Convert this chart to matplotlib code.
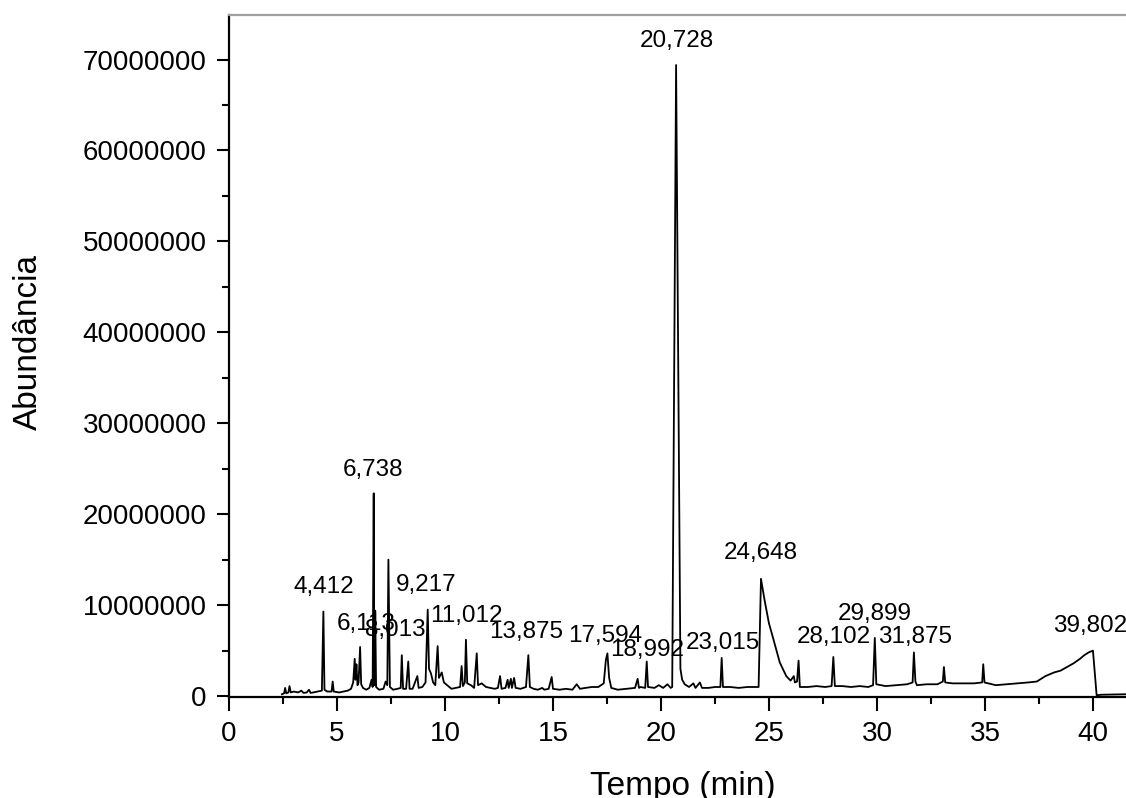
#chromatogram.py: abundance vs retention time (GC-MS)

import matplotlib
matplotlib.use("Agg")
import matplotlib.pyplot as plt
from matplotlib.ticker import MultipleLocator

plt.rcParams['font.family'] = ['Liberation Sans', 'DejaVu Sans']

#trace: retention time (min) and abundance (millions)
tempo = [
    2.45, 2.55, 2.60, 2.65, 2.75, 2.80, 2.86, 3.00, 3.20, 3.35, 3.45, 3.60, 3.70, 3.78, 3.90,
    4.10, 4.30, 4.37, 4.42, 4.55, 4.75, 4.80, 4.85, 5.10, 5.30, 5.50, 5.65, 5.75, 5.82, 5.86,
    5.90, 5.95, 6.00, 6.07, 6.12, 6.20, 6.35, 6.50, 6.60, 6.65, 6.70, 6.73, 6.77, 6.81, 6.95,
    7.15, 7.25, 7.33, 7.38, 7.45, 7.60, 7.80, 7.95, 8.00, 8.06, 8.20, 8.30, 8.36, 8.50, 8.72,
    8.78, 8.95, 9.10, 9.20, 9.26, 9.35, 9.45, 9.55, 9.66, 9.72, 9.85, 9.95, 10.1, 10.3, 10.5,
    10.7, 10.77, 10.83, 10.92, 10.97, 11.03, 11.2, 11.35, 11.47, 11.53, 11.7, 11.9, 12.1, 12.3,
    12.45, 12.55, 12.62, 12.8, 12.9, 12.95, 13.05, 13.1, 13.2, 13.27, 13.5, 13.75, 13.86, 13.93,
    14.1, 14.3, 14.5, 14.6, 14.8, 14.94, 15.0, 15.3, 15.6, 15.9, 16.1, 16.25, 16.5, 16.8, 17.1,
    17.35, 17.45, 17.52, 17.6, 17.7, 18.0, 18.4, 18.8, 18.92, 18.98, 19.05, 19.27, 19.34, 19.4,
    19.7, 19.9, 20.1, 20.3, 20.45, 20.52, 20.70, 20.90, 20.98, 21.1, 21.3, 21.5, 21.6, 21.8,
    21.9, 22.2, 22.5, 22.75, 22.81, 22.87, 23.2, 23.6, 24.0, 24.4, 24.52, 24.63, 24.8, 25.0,
    25.2, 25.5, 25.8, 26.0, 26.15, 26.2, 26.3, 26.37, 26.43, 26.8, 27.2, 27.6, 27.9, 27.98,
    28.05, 28.4, 28.8, 29.2, 29.6, 29.82, 29.9, 29.97, 30.4, 30.9, 31.4, 31.65, 31.71, 31.78,
    31.85, 32.3, 32.8, 33.05, 33.1, 33.16, 33.5, 34.0, 34.5, 34.87, 34.92, 34.98, 35.5, 36.0,
    36.5, 37.0, 37.4, 37.8, 38.2, 38.5, 38.8, 39.1, 39.4, 39.6, 39.8, 39.9, 40.0, 40.17, 40.4,
    41.5,
]
abundancia = [
    0.2, 0.3, 0.9, 0.3, 0.4, 1.1, 0.4, 0.5, 0.4, 0.6, 0.35, 0.4, 0.7, 0.35, 0.4,
    0.5, 0.6, 9.3, 0.7, 0.5, 0.5, 1.6, 0.5, 0.4, 0.5, 0.6, 0.8, 1.5, 4.1, 1.8,
    3.5, 1.2, 1.5, 5.4, 1.3, 0.9, 0.7, 0.9, 1.8, 1.0, 22.3, 1.2, 9.4, 1.0, 0.7,
    0.8, 1.6, 1.2, 15.0, 1.0, 0.7, 0.8, 0.9, 4.5, 0.8, 0.8, 3.8, 0.8, 0.8, 2.2,
    0.9, 1.0, 1.5, 9.5, 3.0, 2.5, 1.5, 1.2, 5.5, 2.0, 2.6, 1.5, 1.2, 0.8, 0.9,
    1.0, 3.3, 1.1, 1.5, 6.2, 1.4, 1.2, 0.9, 4.7, 1.2, 1.4, 1.0, 0.9, 0.8,
    0.9, 2.2, 0.8, 0.9, 1.8, 0.9, 1.9, 0.9, 2.0, 0.9, 0.8, 1.0, 4.5, 1.0,
    0.8, 0.7, 0.9, 0.7, 0.8, 2.1, 0.8, 0.7, 0.8, 0.7, 1.3, 0.8, 0.9, 1.0, 1.0,
    1.4, 4.0, 4.7, 2.0, 0.9, 0.7, 0.8, 0.9, 1.9, 0.9, 1.0, 0.9, 3.8, 1.0,
    0.9, 1.2, 0.9, 1.3, 0.9, 1.0, 69.4, 3.0, 1.8, 1.3, 1.0, 1.4, 0.9, 1.5,
    0.9, 0.9, 1.0, 1.0, 4.2, 1.0, 1.0, 0.9, 1.0, 1.0, 1.0, 12.9, 10.5, 8.0,
    6.3, 3.7, 2.2, 1.7, 2.2, 1.5, 1.6, 3.9, 1.0, 1.0, 1.1, 1.0, 1.1, 4.3,
    1.1, 1.1, 1.0, 1.1, 1.0, 1.2, 6.4, 1.3, 1.1, 1.2, 1.3, 1.5, 4.8, 1.6,
    1.2, 1.3, 1.3, 1.6, 3.2, 1.5, 1.4, 1.4, 1.4, 1.5, 3.5, 1.5, 1.2, 1.3,
    1.4, 1.5, 1.6, 2.2, 2.6, 2.8, 3.2, 3.6, 4.1, 4.5, 4.8, 4.9, 5.0, 0.1, 0.15,
    0.2,
]

#peak labels: text, x and y (millions) of the label centre
rotulos = ["20,728", "6,738", "4,412", "6,113", "8,013", "9,217", "11,012", "13,875",
           "17,594", "18,992", "23,015", "24,648", "28,102", "29,899", "31,875", "39,802"]
rotulo_x = [20.73, 6.67, 4.40, 6.35, 7.71, 9.15, 11.0, 13.75,
            17.42, 19.37, 22.88, 24.62, 28.0, 29.9, 31.76, 39.85]
rotulo_y = [72.0, 24.9, 12.0, 7.9, 7.25, 12.2, 8.8, 7.1,
            6.6, 5.05, 5.8, 15.7, 6.5, 9.0, 6.5, 7.7]

fig = plt.figure(figsize=(11.26, 7.98), dpi=100)
ax = fig.add_axes([229/1126, 101/798, 897/1126, 682/798])

ax.plot(tempo, [a*1e6 for a in abundancia], color="black", lw=1.3)

for txt, x, y in zip(rotulos, rotulo_x, rotulo_y):
    ax.text(x, y*1e6, txt, ha="center", va="center", fontsize=17.5)

ax.set_xlim(0, 41.53)
ax.set_ylim(-0.1e6, 74.9e6)
ax.xaxis.set_major_locator(MultipleLocator(5))
ax.xaxis.set_minor_locator(MultipleLocator(2.5))
ax.yaxis.set_major_locator(MultipleLocator(10000000))
ax.yaxis.set_minor_locator(MultipleLocator(5000000))
ax.ticklabel_format(axis="y", style="plain", useOffset=False)

ax.tick_params(which="major", direction="out", length=9, width=1.5, labelsize=20, pad=7)
ax.tick_params(which="minor", direction="out", length=5, width=1.5)
ax.tick_params(axis="x", which="major", length=10)

for s in ["left", "bottom"]:
    ax.spines[s].set_linewidth(1.6)
ax.spines["top"].set_color("#a0a0a0")
ax.spines["top"].set_linewidth(1.6)
ax.spines["right"].set_visible(False)

fig.text(37/1126, 1-342.5/798, "Abundância", rotation=90, ha="center", va="baseline",
         rotation_mode="anchor", fontsize=24)
fig.text(682.5/1126, 1-795/798, "Tempo (min)", ha="center", va="baseline", fontsize=24)

fig.savefig("out.png", dpi=100)
